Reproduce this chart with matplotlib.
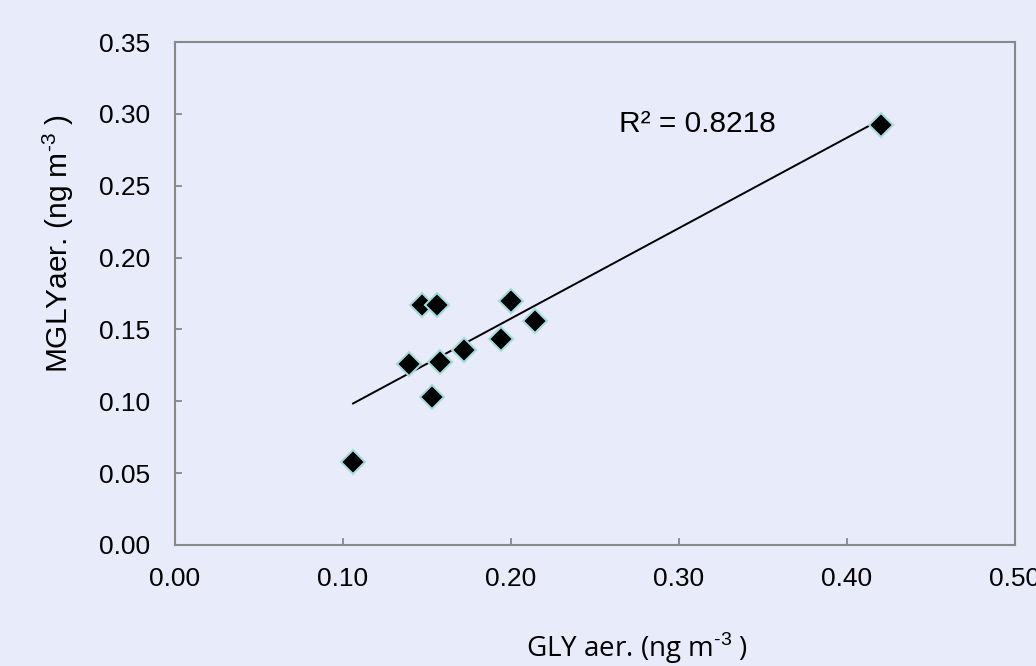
import numpy as np
import matplotlib
matplotlib.use("Agg")
import matplotlib.pyplot as plt

# GLY vs MGLY aerosol concentrations (ng m-3)
gly = [0.106, 0.139, 0.147, 0.156, 0.153, 0.158, 0.172, 0.194, 0.200, 0.214, 0.420]
mgly = [0.058, 0.126, 0.167, 0.167, 0.103, 0.127, 0.136, 0.143, 0.170, 0.156, 0.292]
r2_label = "R² = 0.8218"

xticks = [0.0, 0.1, 0.2, 0.3, 0.4, 0.5]
yticks = [0.0, 0.05, 0.10, 0.15, 0.20, 0.25, 0.30, 0.35]

bg = "#E7EBFA"
spine_col = "#888888"

plt.rcParams["mathtext.fontset"] = "custom"
plt.rcParams["mathtext.rm"] = "Liberation Sans"

fig = plt.figure(figsize=(10.36, 6.66), dpi=100, facecolor=bg)
ax = fig.add_axes([175 / 1036, 1 - 545 / 666, 840 / 1036, 503 / 666])
ax.set_facecolor(bg)

# linear trend line across the data range
slope, icpt = np.polyfit(gly, mgly, 1)
xs = np.array([min(gly), max(gly)])
ax.plot(xs, slope * xs + icpt, color="black", lw=1.4, zorder=2)

ax.plot(gly, mgly, linestyle="none", marker="D", markersize=12.5,
        markerfacecolor="black", markeredgecolor="#A6DADB", markeredgewidth=1.5, zorder=3)

ax.text(0.264, 0.293, r2_label, fontsize=21.5, family="Liberation Sans",
        ha="left", va="center")

ax.set_xlim(0, 0.5)
ax.set_ylim(0, 0.35)
ax.set_xticks(xticks)
ax.set_yticks(yticks)
ax.set_xticklabels([f"{v:.2f}" for v in xticks], family="Liberation Sans", fontsize=19)
ax.set_yticklabels([f"{v:.2f}" for v in yticks], family="Liberation Sans", fontsize=19)
ax.tick_params(axis="y", direction="in", length=5, width=1.3, color=spine_col, pad=18)
ax.tick_params(axis="x", direction="in", length=5, width=1.3, color=spine_col, pad=16)
for s in ax.spines.values():
    s.set_color(spine_col)
    s.set_linewidth(1.5)

# axis titles sit off-centre in the original, so place them on the figure
fig.text(58 / 1036, 1 - 244 / 666, r"MGLYaer. (ng m$^{\mathrm{\text{-3}}}$ )",
         family="Liberation Sans", fontsize=21.5, rotation=90, ha="center", va="center")
fig.text(637 / 1036, 1 - 657 / 666, r"GLY aer. (ng m$^{\mathrm{\text{-3}}}$ )",
         family="Open Sans", fontsize=20, ha="center", va="baseline")

fig.savefig("out.png", dpi=100, facecolor=bg)
